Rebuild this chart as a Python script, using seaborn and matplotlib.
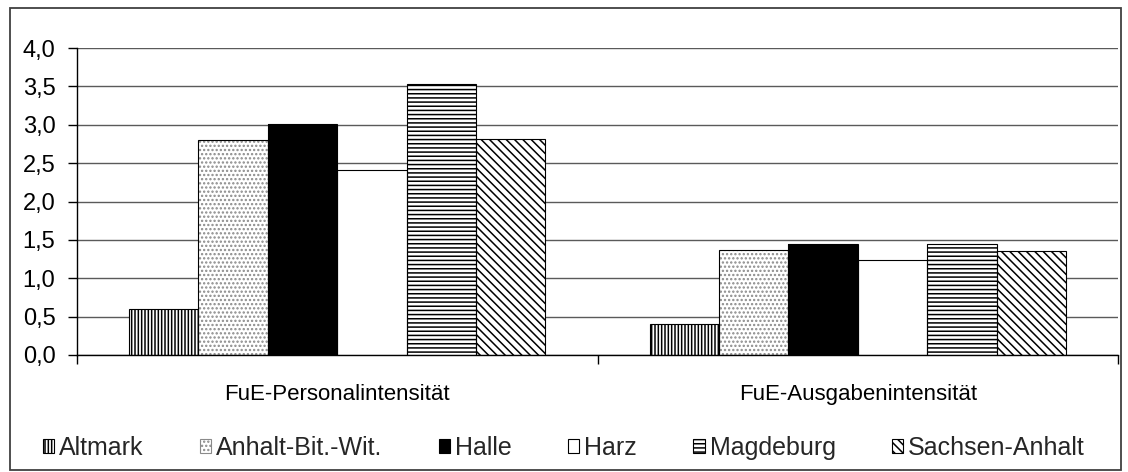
import matplotlib
matplotlib.use("Agg")
import matplotlib.pyplot as plt
from matplotlib.patches import Patch, Rectangle
from matplotlib.ticker import FuncFormatter, FixedLocator
import numpy as np
import pandas as pd
import seaborn as sns

# data
categories = ["FuE-Personalintensität", "FuE-Ausgabenintensität"]
regions = ["Altmark", "Anhalt-Bit.-Wit.", "Halle", "Harz", "Magdeburg", "Sachsen-Anhalt"]
altmark = [0.60, 0.40]
anhalt_bit_wit = [2.80, 1.37]
halle = [3.01, 1.45]
harz = [2.41, 1.24]
magdeburg = [3.53, 1.45]
sachsen_anhalt = [2.82, 1.36]
y_ticks = [0.0, 0.5, 1.0, 1.5, 2.0, 2.5, 3.0, 3.5, 4.0]


def build_frame():
    series = [altmark, anhalt_bit_wit, halle, harz, magdeburg, sachsen_anhalt]
    rows = []
    for region, vals in zip(regions, series):
        for cat, v in zip(categories, vals):
            rows.append({"Kennzahl": cat, "Region": region, "Wert": v})
    return pd.DataFrame(rows)


# fill / hatch / hatch colour per region (Excel-like black & white patterns)
styles = {
    "Altmark": ("white", "|||||", "black"),
    "Anhalt-Bit.-Wit.": ("white", "....", "#8a8a8a"),
    "Halle": ("black", "", "black"),
    "Harz": ("white", "", "black"),
    "Magdeburg": ("white", "----", "black"),
    "Sachsen-Anhalt": ("white", "\\\\\\\\", "black"),
}

sns.set_theme(style="white")
plt.rcParams["font.family"] = ["Liberation Sans", "DejaVu Sans"]
plt.rcParams["hatch.linewidth"] = 1.1
FS = 17

df = build_frame()

fig = plt.figure(figsize=(11.28, 4.72), dpi=100)
ax = fig.add_axes([77 / 1128, 1 - 355 / 472, 1041 / 1128, 307 / 472])

sns.barplot(data=df, x="Kennzahl", y="Wert", hue="Region", order=categories,
            hue_order=regions, palette=[styles[r][0] for r in regions],
            saturation=1, errorbar=None, width=0.8, legend=False,
            edgecolor="black", linewidth=0.8, ax=ax)

for region, container in zip(regions, ax.containers):
    face, hatch, hcol = styles[region]
    for bar in container:
        bar.set_hatch(hatch)
        bar.set_edgecolor(hcol)
        bar.set_linewidth(0)
        # black outline drawn on top so the hatch colour can differ
        ax.add_patch(Rectangle(bar.get_xy(), bar.get_width(), bar.get_height(),
                               fill=False, edgecolor="black", linewidth=0.8, zorder=3))

ax.set_xlim(-0.5, 1.5)
ax.set_ylim(0, 4.0)
ax.set_yticks(y_ticks)
ax.yaxis.set_major_formatter(FuncFormatter(lambda v, _: f"{v:.1f}".replace(".", ",")))
ax.yaxis.grid(True, color="#5a5a5a", linewidth=1)
ax.set_axisbelow(True)
ax.set_xlabel("")
ax.set_ylabel("")

for side in ["top", "right"]:
    ax.spines[side].set_visible(False)
for side in ["left", "bottom"]:
    ax.spines[side].set_color("black")
    ax.spines[side].set_linewidth(1)

ax.tick_params(axis="y", which="major", left=True, length=6.5, width=1, color="black",
               pad=9, labelsize=FS, labelcolor="black")
ax.xaxis.set_minor_locator(FixedLocator([-0.5, 0.5, 1.5]))
ax.tick_params(axis="x", which="major", bottom=False, length=0, pad=21,
               labelsize=FS - 1, labelcolor="black")
ax.tick_params(axis="x", which="minor", bottom=True, length=6.5, width=1, color="black")

handles = []
for region in regions:
    face, hatch, hcol = styles[region]
    handles.append(Patch(facecolor=face, hatch=hatch, edgecolor=hcol if hatch else "black",
                         linewidth=0.8, label=region))
fig.legend(handles=handles, loc="center", bbox_to_anchor=(0.5, 1 - 448 / 472),
           ncol=6, frameon=False, fontsize=18, handlelength=0.45, handleheight=0.45,
           handletextpad=0.2, columnspacing=2.25, borderaxespad=0)

fig.add_artist(Rectangle((10 / 1128, 2 / 472), 1111 / 1128, 462 / 472,
                         transform=fig.transFigure, fill=False,
                         edgecolor="#404040", linewidth=1.3))

fig.savefig("out.png", dpi=100)
plt.close(fig)
